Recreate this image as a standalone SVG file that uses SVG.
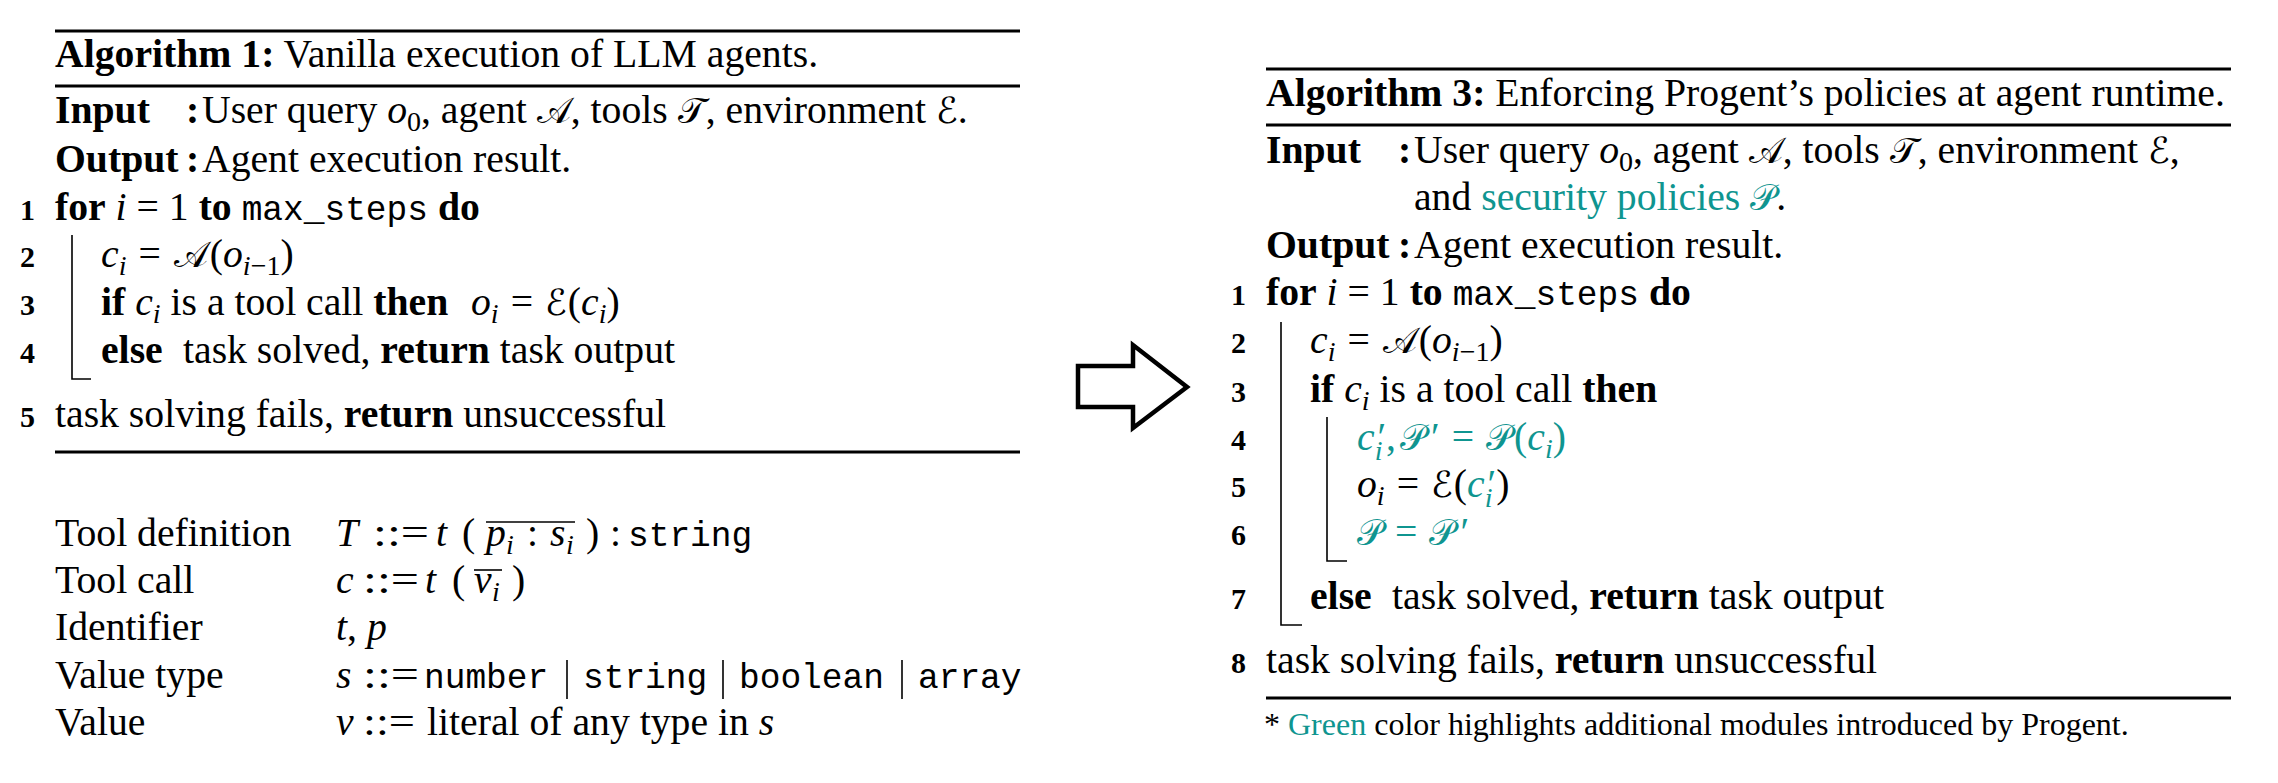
<svg xmlns="http://www.w3.org/2000/svg" width="2278" height="783" viewBox="0 0 2278 783">
<style>
text{font-family:"Liberation Serif","Times New Roman",serif;font-size:39.7px;fill:#000}
.b{font-weight:bold}
.it{font-style:italic}
.num{font-weight:bold;font-size:30px}
.mono{font-family:"Liberation Mono","Courier New",monospace;font-size:34.5px}
.sub{font-size:28px}
.cal{font-family:"DejaVu Serif","DejaVu Sans","Noto Sans",serif;font-style:normal;font-size:36px}
.g{fill:#0f9590}
.fn{font-size:32px}
.rule{stroke:#000;stroke-width:3;fill:none}
.bar{stroke:#000;stroke-width:1.6;fill:none}
</style>
<rect width="2278" height="783" fill="#fff"/>

<g id="alg1">
<line class="rule" x1="55" y1="31" x2="1020" y2="31"/>
<line class="rule" x1="55" y1="86" x2="1020" y2="86"/>
<line class="rule" x1="55" y1="452" x2="1020" y2="452"/>
<text x="55" y="67"><tspan class="b">Algorithm 1:</tspan> Vanilla execution of LLM agents.</text>
<text x="55" y="123"><tspan class="b">Input</tspan><tspan class="b" x="186">:</tspan><tspan x="202">User query </tspan><tspan class="it">o</tspan><tspan class="sub" dy="8">0</tspan><tspan dy="-8">, agent </tspan><tspan class="cal">𝒜</tspan>, tools <tspan class="cal">𝒯</tspan>, environment <tspan class="cal">ℰ</tspan>.</text>
<text x="55" y="172"><tspan class="b">Output</tspan><tspan class="b" x="186">:</tspan><tspan x="202">Agent execution result.</tspan></text>
<text class="num" x="35" y="220" text-anchor="end">1</text>
<text x="55" y="220"><tspan class="b">for</tspan> <tspan class="it">i</tspan> = 1 <tspan class="b">to</tspan> <tspan class="mono">max_steps</tspan> <tspan class="b">do</tspan></text>
<text class="num" x="35" y="267" text-anchor="end">2</text>
<text x="101" y="267"><tspan class="it">c</tspan><tspan class="it sub" dy="8">i</tspan><tspan dx="12" dy="-8">=</tspan><tspan class="cal" dx="13">𝒜</tspan><tspan dx="2">(</tspan><tspan class="it">o</tspan><tspan class="sub" dy="8"><tspan class="it">i</tspan>−1</tspan><tspan dy="-8">)</tspan></text>
<text class="num" x="35" y="315" text-anchor="end">3</text>
<text y="315"><tspan class="b" x="101">if</tspan> <tspan class="it">c</tspan><tspan class="it sub" dy="8">i</tspan><tspan dy="-8"> is a tool call </tspan><tspan class="b">then</tspan><tspan class="it" x="471">o</tspan><tspan class="it sub" dy="8">i</tspan><tspan dx="12" dy="-8">=</tspan><tspan class="cal" dx="12">ℰ</tspan><tspan dx="1">(</tspan><tspan class="it">c</tspan><tspan class="it sub" dy="8">i</tspan><tspan dy="-8">)</tspan></text>
<text class="num" x="35" y="363" text-anchor="end">4</text>
<text x="101" y="363"><tspan class="b">else</tspan><tspan x="183">task solved, </tspan><tspan class="b">return</tspan> task output</text>
<text class="num" x="35" y="427" text-anchor="end">5</text>
<text x="55" y="427">task solving fails, <tspan class="b">return</tspan> unsuccessful</text>
<polyline class="bar" points="72,235 72,379 91,379"/>
</g>

<g id="grammar">
<text x="55" y="546">Tool definition</text>
<text x="55" y="593">Tool call</text>
<text x="55" y="640">Identifier</text>
<text x="55" y="688">Value type</text>
<text x="55" y="735">Value</text>
<text y="546"><tspan class="it" x="336">T</tspan><tspan x="373" textLength="56" lengthAdjust="spacingAndGlyphs">::=</tspan><tspan class="it" x="436">t</tspan><tspan x="462">(</tspan><tspan class="it" x="486">p</tspan><tspan class="it sub" x="506" y="554">i</tspan><tspan x="527" y="546">:</tspan><tspan class="it" x="550">s</tspan><tspan class="it sub" x="566" y="554">i</tspan><tspan x="586" y="546">)</tspan><tspan x="610">:</tspan><tspan class="mono" x="628">string</tspan></text>
<line class="bar" x1="486" y1="522" x2="575" y2="522"/>
<text y="593"><tspan class="it" x="336">c</tspan><tspan x="363" textLength="56" lengthAdjust="spacingAndGlyphs">::=</tspan><tspan class="it" x="425">t</tspan><tspan x="452">(</tspan><tspan class="it" x="474">v</tspan><tspan class="it sub" x="492" y="601">i</tspan><tspan x="512" y="593">)</tspan></text>
<line class="bar" x1="474" y1="570" x2="502" y2="570"/>
<text y="640"><tspan class="it" x="336">t</tspan>, <tspan class="it">p</tspan></text>
<text y="688"><tspan class="it" x="336">s</tspan><tspan x="363" textLength="56" lengthAdjust="spacingAndGlyphs">::=</tspan><tspan class="mono" x="424">number</tspan><tspan class="mono" x="583">string</tspan><tspan class="mono" x="739">boolean</tspan><tspan class="mono" x="918">array</tspan></text>
<line class="bar" x1="567" y1="660" x2="567" y2="699"/>
<line class="bar" x1="723" y1="660" x2="723" y2="699"/>
<line class="bar" x1="902" y1="660" x2="902" y2="699"/>
<text y="735"><tspan class="it" x="336">v</tspan><tspan x="363" textLength="52" lengthAdjust="spacingAndGlyphs">::=</tspan><tspan x="427">literal of any type in </tspan><tspan class="it">s</tspan></text>
</g>

<g id="connectors">
<polygon points="1078,366 1133,366 1133,345 1187,387 1133,428 1133,407 1078,407" fill="#fff" stroke="#000" stroke-width="4.5" stroke-linejoin="miter"/>
</g>

<g id="alg3">
<line class="rule" x1="1266" y1="69" x2="2231" y2="69"/>
<line class="rule" x1="1266" y1="125" x2="2231" y2="125"/>
<line class="rule" x1="1266" y1="698" x2="2231" y2="698"/>
<text x="1266" y="106"><tspan class="b">Algorithm 3:</tspan> Enforcing Progent’s policies at agent runtime.</text>
<text x="1266" y="163"><tspan class="b">Input</tspan><tspan class="b" x="1398">:</tspan><tspan x="1414">User query </tspan><tspan class="it">o</tspan><tspan class="sub" dy="8">0</tspan><tspan dy="-8">, agent </tspan><tspan class="cal">𝒜</tspan>, tools <tspan class="cal">𝒯</tspan>, environment <tspan class="cal">ℰ</tspan>,</text>
<text x="1414" y="210">and <tspan class="g">security policies <tspan class="cal">𝒫</tspan></tspan>.</text>
<text x="1266" y="258"><tspan class="b">Output</tspan><tspan class="b" x="1398">:</tspan><tspan x="1414">Agent execution result.</tspan></text>
<text class="num" x="1246" y="305" text-anchor="end">1</text>
<text x="1266" y="305"><tspan class="b">for</tspan> <tspan class="it">i</tspan> = 1 <tspan class="b">to</tspan> <tspan class="mono">max_steps</tspan> <tspan class="b">do</tspan></text>
<text class="num" x="1246" y="353" text-anchor="end">2</text>
<text x="1310" y="353"><tspan class="it">c</tspan><tspan class="it sub" dy="8">i</tspan><tspan dx="12" dy="-8">=</tspan><tspan class="cal" dx="13">𝒜</tspan><tspan dx="2">(</tspan><tspan class="it">o</tspan><tspan class="sub" dy="8"><tspan class="it">i</tspan>−1</tspan><tspan dy="-8">)</tspan></text>
<text class="num" x="1246" y="402" text-anchor="end">3</text>
<text y="402"><tspan class="b" x="1310">if</tspan> <tspan class="it">c</tspan><tspan class="it sub" dy="8">i</tspan><tspan dy="-8"> is a tool call </tspan><tspan class="b">then</tspan></text>
<text class="num" x="1246" y="450" text-anchor="end">4</text>
<text class="g" x="1357" y="450"><tspan class="it">c</tspan><tspan class="it sub" dy="10">i</tspan><tspan dx="-5" dy="-10">′</tspan><tspan>,</tspan><tspan class="cal" dx="4">𝒫</tspan><tspan dx="5">′</tspan><tspan dx="12">=</tspan><tspan class="cal" dx="12">𝒫</tspan><tspan dx="2">(</tspan><tspan class="it">c</tspan><tspan class="it sub" dy="8">i</tspan><tspan dy="-8">)</tspan></text>
<text class="num" x="1246" y="497" text-anchor="end">5</text>
<text x="1357" y="497"><tspan class="it">o</tspan><tspan class="it sub" dy="8">i</tspan><tspan dx="12" dy="-8">=</tspan><tspan class="cal" dx="12">ℰ</tspan><tspan dx="1">(</tspan><tspan class="it g">c</tspan><tspan class="it sub g" dy="10">i</tspan><tspan class="g" dx="-5" dy="-10">′</tspan><tspan>)</tspan></text>
<text class="num" x="1246" y="545" text-anchor="end">6</text>
<text class="g" x="1357" y="545"><tspan class="cal">𝒫</tspan><tspan dx="12">=</tspan><tspan class="cal" dx="12">𝒫</tspan><tspan dx="5">′</tspan></text>
<text class="num" x="1246" y="609" text-anchor="end">7</text>
<text x="1310" y="609"><tspan class="b">else</tspan><tspan x="1392">task solved, </tspan><tspan class="b">return</tspan> task output</text>
<text class="num" x="1246" y="673" text-anchor="end">8</text>
<text x="1266" y="673">task solving fails, <tspan class="b">return</tspan> unsuccessful</text>
<polyline class="bar" points="1281,322 1281,625 1302,625"/>
<polyline class="bar" points="1327,417 1327,561 1347,561"/>
<text class="fn" x="1264" y="735">* <tspan class="g">Green</tspan> color highlights additional modules introduced by Progent.</text>
</g>
</svg>
